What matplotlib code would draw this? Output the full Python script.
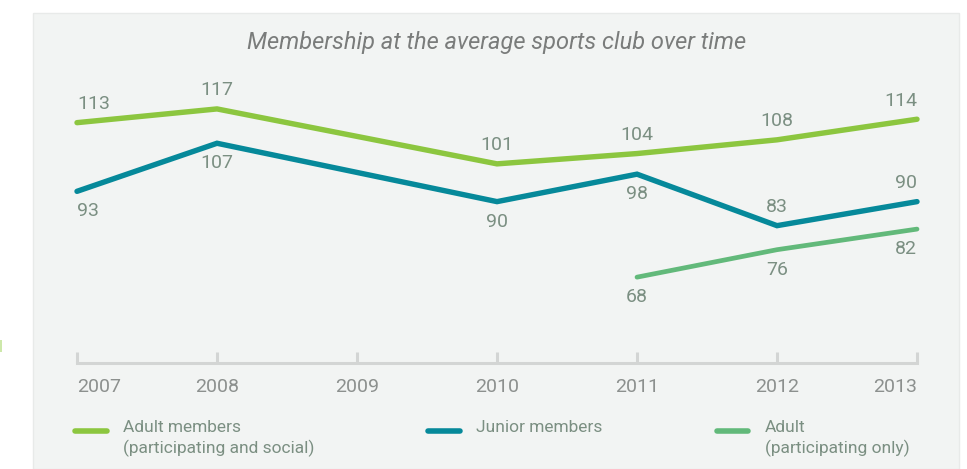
import matplotlib.pyplot as plt
from matplotlib.patches import Rectangle
from matplotlib.lines import Line2D

plt.rcParams['font.family'] = ['Roboto', 'DejaVu Sans']

# Membership figures
years = [2007, 2008, 2010, 2011, 2012, 2013]
adult_all = [113, 117, 101, 104, 108, 114]
junior = [93, 107, 90, 98, 83, 90]
years_part = [2011, 2012, 2013]
adult_part = [68, 76, 82]
tick_years = [2007, 2008, 2009, 2010, 2011, 2012, 2013]

# where each value label sits relative to its point
junior_pos = ['below', 'below', 'below', 'below', 'above', 'above']

c_adult = '#8cc63f'
c_junior = '#06899a'
c_part = '#62b97a'
c_label = '#7b8f82'
c_tick = '#8c908e'
c_axis = '#d3d5d4'

fig = plt.figure(figsize=(9.67, 4.69), dpi=100)
W, H = 967, 469

# grey panel behind the chart
fig.patches.append(Rectangle((33 / W, 0), (959 - 33) / W, (469 - 13) / H,
                             transform=fig.transFigure, facecolor='#f2f4f3',
                             edgecolor='#e8eae9', linewidth=1, zorder=-10))
fig.patches.append(Rectangle((0, (469 - 352) / H), 2 / W, 12 / H,
                             transform=fig.transFigure, facecolor='#cde8aa',
                             edgecolor='none', zorder=-10))

ax = fig.add_axes([77 / W, (469 - 363) / H, 840 / W, 263 / H])
ax.set_facecolor('none')
ax.set_xlim(2007, 2013)
ax.set_ylim(43, 119.6)

ax.plot(years, adult_all, color=c_adult, lw=3.9, solid_capstyle='round',
        solid_joinstyle='miter', clip_on=False)
ax.plot(years, junior, color=c_junior, lw=3.9, solid_capstyle='round',
        solid_joinstyle='miter', clip_on=False)
ax.plot(years_part, adult_part, color=c_part, lw=3.4, solid_capstyle='round',
        solid_joinstyle='miter', clip_on=False)


def ha_for(x):
    if x == 2007:
        return 'left'
    if x == 2013:
        return 'right'
    return 'center'


def label(x, y, where):
    dy = 7 if where == 'above' else -8
    va = 'bottom' if where == 'above' else 'top'
    ax.annotate(str(y), (x, y), xytext=(0, dy), textcoords='offset points',
                ha=ha_for(x), va=va, fontsize=14, color=c_label,
                annotation_clip=False)


for x, y in zip(years, adult_all):
    label(x, y, 'above')
for x, y, p in zip(years, junior, junior_pos):
    label(x, y, p)
for x, y in zip(years_part, adult_part):
    label(x, y, 'below')

# axis styling
for s in ['top', 'right', 'left']:
    ax.spines[s].set_visible(False)
ax.spines['bottom'].set_color(c_axis)
ax.spines['bottom'].set_linewidth(2.2)
ax.set_yticks([])
ax.set_xticks(tick_years)
ax.set_xticklabels([str(y) for y in tick_years], fontsize=14, color=c_tick)
ax.tick_params(axis='x', direction='in', length=8, width=2.2, color=c_axis, pad=11)
tl = ax.get_xticklabels()
tl[0].set_ha('left')
tl[-1].set_ha('right')

ax.set_title('Membership at the average sports club over time', fontsize=17,
             style='italic', color='#7a7c7b', pad=0, y=(469 - 43 - 106) / 263,
             va='center')

# legend drawn along the bottom of the panel
legend_items = [
    (75, 107, 123, c_adult, 'Adult members\n(participating and social)'),
    (428, 460, 476, c_junior, 'Junior members'),
    (717, 748, 765, c_part, 'Adult\n(participating only)'),
]
for x0, x1, xt, col, txt in legend_items:
    fig.add_artist(Line2D([x0 / W, x1 / W], [(469 - 431) / H] * 2, color=col,
                          lw=4, solid_capstyle='round',
                          transform=fig.transFigure))
    fig.text(xt / W, (469 - 420) / H, txt, ha='left', va='top', fontsize=12.5,
             color=c_label, linespacing=1.35)

fig.savefig('out.png', dpi=100)
